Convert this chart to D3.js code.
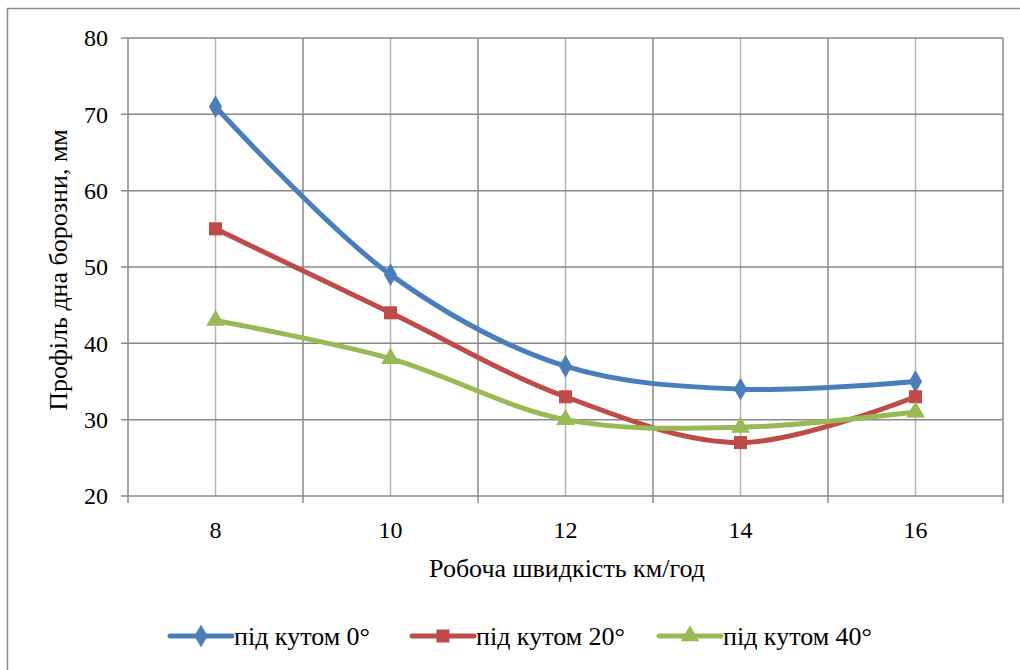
<!DOCTYPE html>
<html><head><meta charset="utf-8">
<script src="https://cdn.jsdelivr.net/npm/d3@7"></script>
<style>body{margin:0;background:#fff}svg{display:block}svg text{font-family:"Times New Roman",Tinos,"Liberation Serif","DejaVu Serif","Noto Serif",serif}</style>
</head><body><svg id="c" width="1020" height="670"></svg>
<script>
const categories = [8, 10, 12, 14, 16];
const series0 = [71, 49, 37, 34, 35];
const series20 = [55, 44, 33, 27, 33];
const series40 = [43, 38, 30, 29, 31];
const seriesNames = ["під кутом 0°", "під кутом 20°", "під кутом 40°"];
const yTicks = [20, 30, 40, 50, 60, 70, 80];
const xTitle = "Робоча швидкість км/год";
const yTitle = "Профіль дна борозни, мм";

const svg = d3.select("#c");
const L = 128, R = 1003, T = 38, B = 496;
const x = d3.scaleBand().domain(categories).range([L, R]);
const y = d3.scaleLinear().domain([20, 80]).range([B, T]);
const cx = d => x(d) + x.bandwidth() / 2;

// outer border
svg.append("rect").attr("x", 7.5).attr("y", 8.5).attr("width", 1030).attr("height", 700)
  .attr("fill", "none").attr("stroke", "#8c8c8c").attr("stroke-width", 1.5);

// minor vertical gridlines at category centers
svg.append("g").selectAll("line").data(categories).join("line")
  .attr("x1", d => cx(d)).attr("x2", d => cx(d)).attr("y1", T).attr("y2", B)
  .attr("stroke", "#b4b4b4").attr("stroke-width", 1.5);
// major vertical gridlines at boundaries
const bounds = categories.map(d => x(d)).concat([R]);
svg.append("g").selectAll("line").data(bounds).join("line")
  .attr("x1", d => d).attr("x2", d => d).attr("y1", T).attr("y2", B + 7)
  .attr("stroke", "#888").attr("stroke-width", 1.5);
// horizontal gridlines
svg.append("g").selectAll("line").data(yTicks).join("line")
  .attr("x1", L - 7).attr("x2", R).attr("y1", d => y(d)).attr("y2", d => y(d))
  .attr("stroke", "#888").attr("stroke-width", 1.5);

// y tick labels
svg.append("g").selectAll("text").data(yTicks).join("text")
  .attr("x", 108).attr("y", d => y(d)).attr("dy", "0.35em").attr("text-anchor", "end")
  .attr("font-size", 24).text(d => d);
// x tick labels
svg.append("g").selectAll("text").data(categories).join("text")
  .attr("x", d => cx(d)).attr("y", 530).attr("dy", "0.35em").attr("text-anchor", "middle")
  .attr("font-size", 24).text(d => d);

svg.append("text").attr("x", 567).attr("y", 568).attr("dy", "0.35em").attr("text-anchor", "middle")
  .attr("font-size", 26).text(xTitle);
svg.append("text").attr("transform", "translate(58,270) rotate(-90)").attr("dy", "0.35em")
  .attr("text-anchor", "middle").attr("font-size", 26).text(yTitle);

const colors = ["#4a7ebb", "#be4b48", "#98b954"];
const symbols = [d3.symbolDiamond, d3.symbolSquare, d3.symbolTriangle];
const symSizes = [150, 170, 150];
const allSeries = [series0, series20, series40];
const line = d3.line().x((d, i) => cx(categories[i])).y(d => y(d)).curve(d3.curveCatmullRom.alpha(0.5));

allSeries.forEach((s, k) => {
  svg.append("path").attr("d", line(s)).attr("fill", "none").attr("stroke", colors[k])
    .attr("stroke-width", 5).attr("stroke-linejoin", "round").attr("stroke-linecap", "round");
});
allSeries.forEach((s, k) => {
  svg.append("g").selectAll("path").data(s).join("path")
    .attr("transform", (d, i) => `translate(${cx(categories[i])},${y(d)})`)
    .attr("d", d3.symbol().type(symbols[k]).size(symSizes[k])).attr("fill", colors[k]);
});

// legend
const legX = [170, 412, 659];
const legY = 636;
seriesNames.forEach((n, k) => {
  const g = svg.append("g");
  g.append("line").attr("x1", legX[k]).attr("x2", legX[k] + 62).attr("y1", legY).attr("y2", legY)
    .attr("stroke", colors[k]).attr("stroke-width", 5).attr("stroke-linecap", "round");
  g.append("path").attr("transform", `translate(${legX[k] + 31},${legY})`)
    .attr("d", d3.symbol().type(symbols[k]).size(symSizes[k])).attr("fill", colors[k]);
  g.append("text").attr("x", legX[k] + 64).attr("y", legY).attr("dy", "0.35em")
    .attr("font-size", 26).text(n);
});
</script></body></html>
